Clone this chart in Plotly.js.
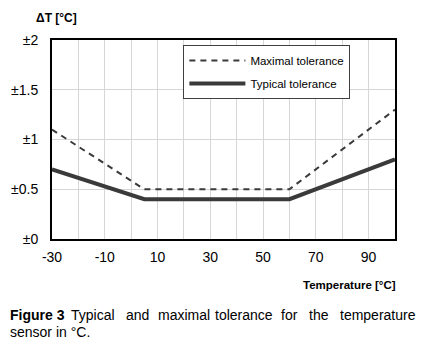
<!DOCTYPE html>
<html><head><meta charset="utf-8">
<script src="https://cdn.plot.ly/plotly-3.0.1.min.js"></script>
<style>html,body{margin:0;padding:0;background:#fff}#chart{width:424px;height:351px}</style>
</head><body><div id="chart"></div>
<script>
const temperature = [-30, 5, 60, 100];
const maximalTolerance = [1.1, 0.5, 0.5, 1.3];
const typicalTolerance = [0.7, 0.4, 0.4, 0.8];
const xTickValues = [-30, -10, 10, 30, 50, 70, 90];
const xTickLabels = ['-30', '-10', '10', '30', '50', '70', '90'];
const yTickValues = [0, 0.5, 1, 1.5, 2];
const yTickLabels = ['±0', '±0.5', '±1', '±1.5', '±2'];
const seriesNames = ['Maximal tolerance', 'Typical tolerance'];
const captionWords1 = ['Typical', 'and', 'maximal', 'tolerance', 'for', 'the', 'temperature'];
const captionLine2 = 'sensor in °C.';

const FR = '"Liberation Sans", Arial, sans-serif';

const traces = [
  {x: temperature, y: maximalTolerance, name: seriesNames[0], mode: 'lines', legendgroup: 'a',
   line: {color: '#3a3a3a', width: 2, dash: '6px,5px'}},
  {x: temperature, y: typicalTolerance, name: seriesNames[1], mode: 'lines', legendgroup: 'b',
   line: {color: '#3a3a3a', width: 4}}
];

const wordX = [69, 124, 156, 213, 278, 306, 337];
const annotations = [
  {text: '<b>ΔT [°C]</b>', xref: 'paper', yref: 'paper', x: (56 - 52) / 342, y: (239 - 18) / 199, xanchor: 'center', yanchor: 'middle',
   showarrow: false, font: {family: FR, size: 12, color: '#000'}},
  {text: '<b>Temperature [°C]</b>', xref: 'paper', yref: 'paper', x: (397 - 52) / 342, y: (239 - 285) / 199, xanchor: 'right', yanchor: 'middle',
   showarrow: false, font: {family: FR, size: 11.5, color: '#000'}},
  {text: '<b>Figure 3</b>', xref: 'paper', yref: 'paper', x: (8 - 52) / 342, y: (239 - 315) / 199, xanchor: 'left', yanchor: 'middle',
   showarrow: false, font: {family: FR, size: 14, color: '#000'}},
  {text: captionLine2, xref: 'paper', yref: 'paper', x: (8 - 52) / 342, y: (239 - 332) / 199, xanchor: 'left', yanchor: 'middle',
   showarrow: false, font: {family: FR, size: 14, color: '#000'}}
];
captionWords1.forEach((w, i) => annotations.push({
  text: w, xref: 'paper', yref: 'paper', x: (wordX[i] - 52) / 342, y: (239 - 315) / 199, xanchor: 'left', yanchor: 'middle',
  showarrow: false, font: {family: FR, size: 14, color: '#000'}
}));

const layout = {
  width: 424, height: 351,
  margin: {l: 52, r: 29, t: 40, b: 112},
  paper_bgcolor: '#fff', plot_bgcolor: '#fff',
  showlegend: true,
  legend: {x: (183 - 52) / 342, y: (239 - 45) / 199, xanchor: 'left', yanchor: 'top', bgcolor: '#fff', bordercolor: '#404040', borderwidth: 1,
           font: {family: FR, size: 11.5, color: '#000'}, traceorder: 'grouped', tracegroupgap: 4, itemwidth: 56},
  xaxis: {range: [-30, 100], tickvals: xTickValues, ticktext: xTickLabels, showgrid: true, gridcolor: '#d6d6d6', gridwidth: 1,
          minor: {dtick: 10, tick0: -30, showgrid: true, gridcolor: '#d6d6d6', gridwidth: 1},
          showline: true, linecolor: '#000', linewidth: 2, mirror: true, zeroline: false, ticks: '',
          ticklabelstandoff: 4,
          tickfont: {family: FR, size: 14, color: '#000'}},
  yaxis: {range: [0, 2], tickvals: yTickValues, ticktext: yTickLabels, showgrid: true, gridcolor: '#d6d6d6', gridwidth: 1,
          showline: true, linecolor: '#000', linewidth: 2, mirror: true, zeroline: false, ticks: '',
          ticklabelstandoff: 9,
          tickfont: {family: FR, size: 14, color: '#000'}},
  annotations: annotations
};

Plotly.newPlot('chart', traces, layout, {displayModeBar: false, staticPlot: true});
</script></body></html>
